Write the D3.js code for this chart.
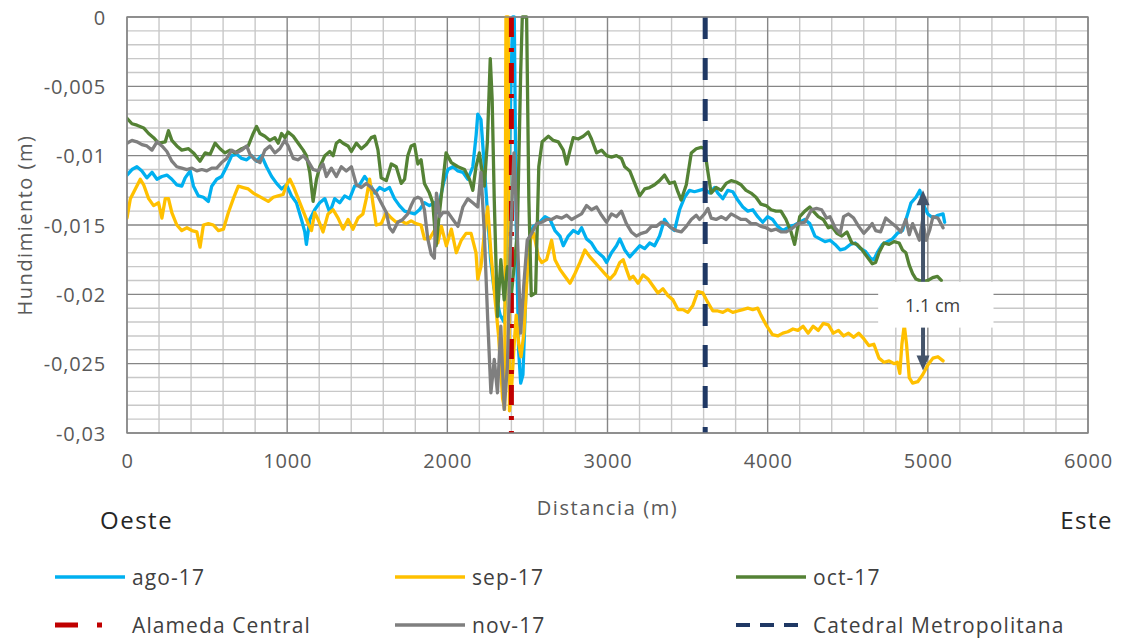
<!DOCTYPE html>
<html>
<head>
<meta charset="utf-8">
<script src="https://cdn.jsdelivr.net/npm/d3@7"></script>
<style>
  body { margin: 0; background: #fff; }
  svg { display: block; font-family: "Open Sans", sans-serif; }
</style>
</head>
<body>
<div id="container"></div>
<script>
/* CONSTANTS AND GLOBALS */
const width = 1123,
  height = 639,
  margin = { top: 17, left: 127, right: 35, bottom: 206 };

// DATA (distance in m, hundimiento in m)
const ago17 = [[0,-0.0114],[31,-0.0110],[62,-0.0108],[93,-0.0111],[124,-0.0116],[156,-0.0112],[187,-0.0117],[218,-0.0115],[249,-0.0114],[280,-0.0117],[311,-0.0121],[342,-0.0122],[363,-0.0116],[394,-0.0111],[415,-0.0122],[446,-0.0129],[477,-0.0130],[508,-0.0133],[529,-0.0122],[560,-0.0117],[591,-0.0115],[622,-0.0108],[654,-0.0100],[685,-0.0099],[716,-0.0102],[747,-0.0103],[778,-0.0100],[809,-0.0104],[840,-0.0100],[871,-0.0108],[903,-0.0115],[934,-0.0120],[965,-0.0124],[996,-0.0121],[1027,-0.0129],[1058,-0.0134],[1089,-0.0146],[1110,-0.0155],[1120,-0.0164],[1141,-0.0146],[1172,-0.0139],[1203,-0.0134],[1235,-0.0131],[1266,-0.0141],[1297,-0.0131],[1328,-0.0134],[1359,-0.0129],[1390,-0.0131],[1421,-0.0122],[1452,-0.0121],[1484,-0.0115],[1515,-0.0120],[1546,-0.0127],[1577,-0.0123],[1608,-0.0125],[1639,-0.0123],[1670,-0.0131],[1701,-0.0136],[1733,-0.0140],[1764,-0.0141],[1795,-0.0142],[1826,-0.0139],[1857,-0.0134],[1888,-0.0136],[1919,-0.0134],[1940,-0.0141],[1961,-0.0128],[1980,-0.0118],[2004,-0.0110],[2035,-0.0108],[2066,-0.0111],[2097,-0.0112],[2128,-0.0117],[2159,-0.0108],[2180,-0.0085],[2190,-0.0070],[2210,-0.0074],[2231,-0.0108],[2250,-0.0140],[2270,-0.0175],[2290,-0.0195],[2310,-0.0205],[2330,-0.0215],[2355,-0.0220],[2375,-0.0180],[2395,-0.0060],[2408,0],[2418,0],[2430,-0.0150],[2445,-0.0240],[2458,-0.0264],[2472,-0.0258],[2490,-0.0200],[2510,-0.0160],[2537,-0.0151],[2568,-0.0149],[2610,-0.0144],[2641,-0.0146],[2672,-0.0154],[2703,-0.0158],[2724,-0.0165],[2755,-0.0158],[2786,-0.0154],[2817,-0.0156],[2838,-0.0152],[2869,-0.0160],[2900,-0.0163],[2932,-0.0169],[2973,-0.0173],[2994,-0.0177],[3025,-0.0170],[3056,-0.0165],[3077,-0.0160],[3108,-0.0168],[3139,-0.0173],[3170,-0.0169],[3201,-0.0165],[3232,-0.0167],[3263,-0.0163],[3294,-0.0165],[3325,-0.0158],[3356,-0.0146],[3387,-0.0151],[3418,-0.0154],[3450,-0.0139],[3481,-0.0130],[3512,-0.0125],[3543,-0.0126],[3574,-0.0125],[3606,-0.0124],[3637,-0.0127],[3668,-0.0123],[3689,-0.0127],[3720,-0.0131],[3751,-0.0125],[3782,-0.0126],[3813,-0.0132],[3845,-0.0137],[3876,-0.0140],[3907,-0.0139],[3938,-0.0144],[3969,-0.0148],[4000,-0.0144],[4031,-0.0146],[4062,-0.0151],[4095,-0.0154],[4137,-0.0151],[4168,-0.0150],[4200,-0.0148],[4232,-0.0146],[4263,-0.0149],[4295,-0.0158],[4326,-0.0160],[4358,-0.0162],[4390,-0.0161],[4421,-0.0164],[4453,-0.0168],[4484,-0.0167],[4516,-0.0164],[4547,-0.0163],[4579,-0.0167],[4611,-0.0169],[4642,-0.0174],[4663,-0.0175],[4684,-0.0170],[4716,-0.0164],[4747,-0.0162],[4779,-0.0160],[4810,-0.0156],[4842,-0.0154],[4874,-0.0142],[4895,-0.0134],[4926,-0.0130],[4950,-0.0125],[4979,-0.0137],[5000,-0.0142],[5032,-0.0145],[5063,-0.0143],[5095,-0.0142],[5105,-0.0148]];

const sep17 = [[0,-0.0145],[21,-0.0131],[52,-0.0124],[83,-0.0117],[104,-0.0121],[135,-0.0131],[166,-0.0136],[197,-0.0134],[218,-0.0145],[239,-0.0131],[259,-0.0131],[280,-0.0141],[311,-0.0150],[342,-0.0154],[374,-0.0152],[405,-0.0154],[436,-0.0155],[456,-0.0166],[477,-0.0150],[508,-0.0149],[539,-0.0150],[571,-0.0154],[602,-0.0153],[633,-0.0141],[664,-0.0131],[695,-0.0122],[726,-0.0123],[757,-0.0124],[788,-0.0127],[820,-0.0129],[851,-0.0131],[882,-0.0133],[913,-0.0130],[944,-0.0129],[975,-0.0128],[996,-0.0121],[1017,-0.0117],[1038,-0.0122],[1069,-0.0131],[1100,-0.0140],[1131,-0.0149],[1152,-0.0154],[1172,-0.0141],[1193,-0.0146],[1224,-0.0155],[1255,-0.0142],[1287,-0.0139],[1318,-0.0145],[1349,-0.0153],[1380,-0.0146],[1411,-0.0153],[1442,-0.0145],[1473,-0.0142],[1494,-0.0131],[1515,-0.0117],[1535,-0.0134],[1556,-0.0150],[1587,-0.0149],[1619,-0.0141],[1650,-0.0145],[1681,-0.0148],[1712,-0.0147],[1743,-0.0149],[1774,-0.0147],[1805,-0.0149],[1836,-0.0150],[1857,-0.0160],[1888,-0.0160],[1919,-0.0154],[1940,-0.0163],[1963,-0.0151],[1994,-0.0165],[2025,-0.0153],[2056,-0.0170],[2087,-0.0161],[2117,-0.0156],[2148,-0.0156],[2179,-0.0170],[2190,-0.0189],[2210,-0.0180],[2231,-0.0156],[2252,-0.0137],[2272,-0.0170],[2295,-0.0200],[2320,-0.0230],[2345,-0.0275],[2358,-0.0283],[2366,0],[2380,0],[2388,-0.0284],[2400,-0.0270],[2415,-0.0240],[2430,-0.0215],[2445,-0.0235],[2460,-0.0245],[2478,-0.0228],[2499,-0.0185],[2520,-0.0160],[2540,-0.0156],[2568,-0.0173],[2589,-0.0177],[2620,-0.0175],[2651,-0.0161],[2672,-0.0175],[2703,-0.0182],[2734,-0.0187],[2766,-0.0192],[2797,-0.0185],[2828,-0.0177],[2859,-0.0168],[2890,-0.0173],[2921,-0.0177],[2952,-0.0181],[2983,-0.0185],[3015,-0.0189],[3046,-0.0185],[3077,-0.0177],[3098,-0.0175],[3118,-0.0182],[3139,-0.0189],[3160,-0.0187],[3191,-0.0192],[3222,-0.0186],[3253,-0.0189],[3284,-0.0194],[3315,-0.0199],[3346,-0.0196],[3378,-0.0201],[3409,-0.0204],[3440,-0.0211],[3471,-0.0211],[3502,-0.0213],[3533,-0.0208],[3564,-0.0198],[3595,-0.0199],[3627,-0.0206],[3658,-0.0212],[3689,-0.0212],[3720,-0.0213],[3751,-0.0211],[3782,-0.0213],[3813,-0.0212],[3845,-0.0211],[3876,-0.0210],[3907,-0.0211],[3938,-0.0210],[3958,-0.0215],[3990,-0.0222],[4030,-0.0229],[4063,-0.0230],[4095,-0.0228],[4126,-0.0227],[4158,-0.0225],[4189,-0.0226],[4221,-0.0223],[4253,-0.0228],[4284,-0.0223],[4316,-0.0226],[4347,-0.0221],[4379,-0.0222],[4410,-0.0228],[4442,-0.0226],[4474,-0.0230],[4505,-0.0228],[4537,-0.0231],[4568,-0.0228],[4600,-0.0232],[4632,-0.0237],[4663,-0.0236],[4695,-0.0246],[4726,-0.0249],[4758,-0.0248],[4789,-0.0250],[4810,-0.0249],[4825,-0.0257],[4838,-0.0236],[4853,-0.0222],[4867,-0.0236],[4884,-0.0260],[4905,-0.0264],[4937,-0.0263],[4968,-0.0258],[5000,-0.0251],[5032,-0.0246],[5063,-0.0245],[5095,-0.0248]];

const oct17 = [[0,-0.0073],[31,-0.0077],[62,-0.0078],[104,-0.0080],[135,-0.0084],[166,-0.0087],[197,-0.0091],[239,-0.0090],[259,-0.0082],[280,-0.0089],[311,-0.0093],[342,-0.0096],[384,-0.0095],[415,-0.0098],[456,-0.0104],[488,-0.0098],[519,-0.0099],[550,-0.0091],[581,-0.0095],[612,-0.0098],[643,-0.0096],[674,-0.0098],[716,-0.0095],[757,-0.0093],[788,-0.0084],[809,-0.0079],[830,-0.0084],[861,-0.0086],[892,-0.0089],[923,-0.0087],[944,-0.0091],[965,-0.0084],[986,-0.0087],[1006,-0.0083],[1038,-0.0086],[1069,-0.0091],[1100,-0.0096],[1120,-0.0100],[1141,-0.0112],[1162,-0.0133],[1183,-0.0117],[1204,-0.0108],[1235,-0.0100],[1266,-0.0097],[1287,-0.0100],[1307,-0.0091],[1328,-0.0089],[1349,-0.0091],[1380,-0.0093],[1401,-0.0097],[1432,-0.0091],[1463,-0.0095],[1494,-0.0092],[1525,-0.0087],[1546,-0.0086],[1567,-0.0096],[1587,-0.0116],[1619,-0.0118],[1650,-0.0106],[1681,-0.0108],[1712,-0.0120],[1733,-0.0117],[1753,-0.0100],[1774,-0.0093],[1795,-0.0092],[1816,-0.0106],[1836,-0.0103],[1857,-0.0120],[1888,-0.0127],[1909,-0.0134],[1930,-0.0165],[1951,-0.0141],[1971,-0.0120],[1992,-0.0098],[2025,-0.0105],[2066,-0.0108],[2107,-0.0110],[2138,-0.0117],[2159,-0.0125],[2179,-0.0108],[2200,-0.0098],[2231,-0.0122],[2250,-0.0090],[2268,-0.0030],[2280,-0.0060],[2293,-0.0132],[2313,-0.0216],[2334,-0.0175],[2355,-0.0204],[2375,-0.0180],[2400,-0.0200],[2437,-0.0156],[2458,-0.0040],[2468,0],[2495,0],[2509,-0.0132],[2524,-0.0201],[2551,-0.0199],[2571,-0.0108],[2592,-0.0090],[2631,-0.0086],[2662,-0.0089],[2693,-0.0090],[2724,-0.0096],[2745,-0.0106],[2766,-0.0096],[2786,-0.0087],[2817,-0.0088],[2849,-0.0086],[2880,-0.0083],[2900,-0.0088],[2932,-0.0098],[2963,-0.0096],[2994,-0.0100],[3025,-0.0101],[3056,-0.0100],[3087,-0.0102],[3108,-0.0108],[3139,-0.0111],[3170,-0.0120],[3201,-0.0129],[3232,-0.0124],[3263,-0.0123],[3294,-0.0121],[3325,-0.0118],[3356,-0.0114],[3387,-0.0120],[3418,-0.0119],[3439,-0.0126],[3460,-0.0132],[3492,-0.0121],[3523,-0.0098],[3554,-0.0095],[3585,-0.0094],[3606,-0.0095],[3626,-0.0111],[3647,-0.0127],[3678,-0.0123],[3710,-0.0125],[3741,-0.0120],[3772,-0.0118],[3803,-0.0119],[3834,-0.0121],[3865,-0.0125],[3896,-0.0127],[3927,-0.0130],[3958,-0.0135],[3990,-0.0136],[4021,-0.0139],[4052,-0.0140],[4083,-0.0140],[4114,-0.0146],[4146,-0.0155],[4168,-0.0164],[4200,-0.0144],[4232,-0.0140],[4263,-0.0137],[4284,-0.0140],[4316,-0.0144],[4347,-0.0146],[4379,-0.0152],[4400,-0.0151],[4432,-0.0156],[4463,-0.0158],[4495,-0.0155],[4526,-0.0163],[4558,-0.0164],[4590,-0.0168],[4621,-0.0173],[4653,-0.0178],[4674,-0.0177],[4695,-0.0170],[4726,-0.0163],[4758,-0.0164],[4789,-0.0162],[4821,-0.0163],[4842,-0.0168],[4863,-0.0170],[4884,-0.0179],[4905,-0.0185],[4926,-0.0189],[4968,-0.0191],[5000,-0.0190],[5030,-0.0188],[5060,-0.0187],[5084,-0.0190]];

const nov17 = [[0,-0.0091],[31,-0.0089],[62,-0.0090],[93,-0.0092],[124,-0.0093],[156,-0.0096],[187,-0.0090],[218,-0.0093],[249,-0.0097],[280,-0.0104],[311,-0.0108],[342,-0.0109],[374,-0.0110],[405,-0.0109],[436,-0.0111],[467,-0.0110],[498,-0.0111],[529,-0.0109],[560,-0.0109],[591,-0.0105],[622,-0.0102],[654,-0.0096],[685,-0.0098],[716,-0.0096],[747,-0.0093],[768,-0.0099],[799,-0.0103],[830,-0.0105],[861,-0.0096],[892,-0.0093],[923,-0.0098],[954,-0.0095],[985,-0.0089],[1006,-0.0093],[1038,-0.0102],[1069,-0.0103],[1100,-0.0100],[1131,-0.0104],[1162,-0.0110],[1193,-0.0111],[1224,-0.0106],[1245,-0.0115],[1276,-0.0109],[1307,-0.0115],[1338,-0.0108],[1369,-0.0111],[1401,-0.0108],[1432,-0.0121],[1463,-0.0123],[1494,-0.0120],[1525,-0.0123],[1556,-0.0127],[1587,-0.0134],[1619,-0.0141],[1639,-0.0152],[1660,-0.0155],[1691,-0.0148],[1722,-0.0146],[1753,-0.0142],[1774,-0.0136],[1795,-0.0131],[1816,-0.0130],[1836,-0.0131],[1857,-0.0139],[1878,-0.0160],[1899,-0.0171],[1919,-0.0174],[1932,-0.0127],[1953,-0.0144],[1973,-0.0141],[2004,-0.0141],[2035,-0.0146],[2066,-0.0151],[2097,-0.0137],[2128,-0.0131],[2159,-0.0134],[2190,-0.0137],[2210,-0.0112],[2231,-0.0156],[2252,-0.0218],[2272,-0.0271],[2293,-0.0247],[2313,-0.0271],[2334,-0.0223],[2355,-0.0283],[2375,-0.0252],[2396,-0.0156],[2416,-0.0098],[2437,-0.0156],[2458,-0.0228],[2478,-0.0192],[2499,-0.0161],[2527,-0.0156],[2558,-0.0149],[2589,-0.0148],[2620,-0.0146],[2651,-0.0146],[2682,-0.0144],[2714,-0.0145],[2745,-0.0143],[2776,-0.0146],[2807,-0.0144],[2838,-0.0142],[2869,-0.0136],[2900,-0.0139],[2932,-0.0137],[2963,-0.0143],[2994,-0.0148],[3025,-0.0142],[3056,-0.0144],[3087,-0.0140],[3118,-0.0149],[3149,-0.0155],[3180,-0.0158],[3212,-0.0156],[3243,-0.0155],[3274,-0.0151],[3305,-0.0151],[3336,-0.0148],[3367,-0.0149],[3398,-0.0152],[3429,-0.0154],[3461,-0.0155],[3492,-0.0151],[3523,-0.0146],[3554,-0.0143],[3575,-0.0146],[3606,-0.0142],[3627,-0.0138],[3647,-0.0145],[3678,-0.0146],[3710,-0.0144],[3741,-0.0146],[3772,-0.0142],[3803,-0.0144],[3834,-0.0146],[3865,-0.0146],[3896,-0.0149],[3927,-0.0149],[3958,-0.0151],[3990,-0.0152],[4021,-0.0154],[4052,-0.0153],[4083,-0.0155],[4114,-0.0155],[4146,-0.0153],[4189,-0.0149],[4232,-0.0148],[4274,-0.0139],[4305,-0.0138],[4337,-0.0139],[4368,-0.0145],[4389,-0.0144],[4421,-0.0152],[4453,-0.0156],[4474,-0.0144],[4505,-0.0142],[4537,-0.0145],[4568,-0.0151],[4600,-0.0156],[4632,-0.0152],[4653,-0.0149],[4674,-0.0154],[4705,-0.0155],[4737,-0.0145],[4768,-0.0148],[4800,-0.0151],[4832,-0.0155],[4863,-0.0146],[4884,-0.0157],[4905,-0.0149],[4926,-0.0155],[4947,-0.0161],[4968,-0.0146],[4989,-0.0161],[5011,-0.0154],[5032,-0.0144],[5063,-0.0145],[5095,-0.0152]];

// reference points along the profile (m)
const alamedaDistance = 2400;
const catedralDistance = 3610;

// annotation: difference marked at the east end
const noteDistance = 4970, noteTop = -0.0125, noteBottom = -0.0255;
const noteLabel = "1.1 cm";

const xTicks = [0, 1000, 2000, 3000, 4000, 5000, 6000];
const yTicks = [0, -0.005, -0.01, -0.015, -0.02, -0.025, -0.03];

const legendNames = ["ago-17", "sep-17", "oct-17", "Alameda Central", "nov-17", "Catedral Metropolitana"];

const esLocale = d3.formatLocale({ decimal: ",", thousands: ".", grouping: [3], currency: ["", " €"], minus: "-" });
const fmtY = esLocale.format("~g");

// APPEND SVG
const svg = d3.select("#container")
  .append("svg")
  .attr("width", width)
  .attr("height", height);

// SCALES
const x = d3.scaleLinear().domain([0, 6000]).range([margin.left, width - margin.right]);
const y = d3.scaleLinear().domain([-0.03, 0]).range([height - margin.bottom, margin.top]);

// GRIDLINES
const minorX = d3.range(0, 6001, 200).filter(d => d % 1000 !== 0);
const minorY = d3.range(1, 30).filter(i => i % 5 !== 0).map(i => -i * 0.001);

svg.append("g").selectAll("line")
  .data(minorX)
  .join("line")
  .attr("x1", d => x(d)).attr("x2", d => x(d))
  .attr("y1", y(0)).attr("y2", y(-0.03))
  .attr("stroke", "#c8c8c8").attr("stroke-width", 1.4);

svg.append("g").selectAll("line")
  .data(minorY)
  .join("line")
  .attr("x1", x(0)).attr("x2", x(6000))
  .attr("y1", d => y(d)).attr("y2", d => y(d))
  .attr("stroke", "#c8c8c8").attr("stroke-width", 1.4);

svg.append("g").selectAll("line")
  .data(xTicks)
  .join("line")
  .attr("x1", d => x(d)).attr("x2", d => x(d))
  .attr("y1", y(0)).attr("y2", y(-0.03))
  .attr("stroke", "#868686").attr("stroke-width", 1.4);

svg.append("g").selectAll("line")
  .data(yTicks)
  .join("line")
  .attr("x1", x(0)).attr("x2", x(6000))
  .attr("y1", d => y(d)).attr("y2", d => y(d))
  .attr("stroke", "#868686").attr("stroke-width", 1.4);

// AXES (labels only)
const xAxis = svg.append("g")
  .attr("transform", `translate(0, ${y(-0.03)})`)
  .call(d3.axisBottom(x).tickValues(xTicks).tickSize(0).tickPadding(21).tickFormat(d3.format("d")));

const yAxis = svg.append("g")
  .attr("transform", `translate(${x(0)}, 0)`)
  .call(d3.axisLeft(y).tickValues(yTicks).tickSize(0).tickPadding(21).tickFormat(d => d === 0 ? "0" : fmtY(d)));

[xAxis, yAxis].forEach(g => {
  g.select(".domain").remove();
  g.selectAll("text")
    .attr("fill", "#595959")
    .style("font-family", "Open Sans, sans-serif")
    .style("font-size", "20px")
    .style("letter-spacing", "0.8px");
});
yAxis.selectAll("text").attr("dy", "0.36em");

// AXIS TITLES
svg.append("text")
  .attr("transform", `translate(24, ${y(-0.015)}) rotate(-90)`)
  .attr("text-anchor", "middle")
  .attr("dominant-baseline", "central")
  .attr("fill", "#595959")
  .style("font-size", "20px")
  .style("letter-spacing", "1.5px")
  .text("Hundimiento (m)");

svg.append("text")
  .attr("x", x(3000))
  .attr("y", 507)
  .attr("text-anchor", "middle")
  .attr("dominant-baseline", "central")
  .attr("fill", "#595959")
  .style("font-size", "20px")
  .style("letter-spacing", "1.6px")
  .text("Distancia (m)");

svg.append("text")
  .attr("x", 100).attr("y", 519)
  .attr("dominant-baseline", "central")
  .attr("fill", "#262626")
  .style("font-size", "24px")
  .style("letter-spacing", "1.5px")
  .text("Oeste");

svg.append("text")
  .attr("x", 1113).attr("y", 519)
  .attr("text-anchor", "end")
  .attr("dominant-baseline", "central")
  .attr("fill", "#262626")
  .style("font-size", "24px")
  .style("letter-spacing", "1.5px")
  .text("Este");

// CLIP TO PLOT AREA
svg.append("clipPath").attr("id", "plot-clip")
  .append("rect")
  .attr("x", x(0)).attr("y", y(0) - 2)
  .attr("width", x(6000) - x(0)).attr("height", y(-0.03) - y(0) + 2);

const plot = svg.append("g").attr("clip-path", "url(#plot-clip)");

const lineGen = d3.line()
  .x(d => x(d[0]))
  .y(d => y(d[1]));

const drawSeries = (data, color) => plot.append("path")
  .datum(data)
  .attr("d", lineGen)
  .attr("fill", "none")
  .attr("stroke", color)
  .attr("stroke-width", 3.3)
  .attr("stroke-linejoin", "round")
  .attr("stroke-linecap", "round");

const refLine = (dist, color, dash) => plot.append("line")
  .attr("x1", x(dist)).attr("x2", x(dist))
  .attr("y1", y(0)).attr("y2", y(-0.03))
  .attr("stroke", color)
  .attr("stroke-width", 5)
  .attr("stroke-dasharray", dash);

// SERIES IN LEGEND ORDER
drawSeries(ago17, "#00b0f0");
drawSeries(sep17, "#ffc000");
drawSeries(oct17, "#548235");
refLine(alamedaDistance, "#c00000", "20,11,4,11");
drawSeries(nov17, "#7f7f7f");
refLine(catedralDistance, "#1f3864", "22,19");

// PLOT BORDER
svg.append("rect")
  .attr("x", x(0)).attr("y", y(0))
  .attr("width", x(6000) - x(0)).attr("height", y(-0.03) - y(0))
  .attr("fill", "none")
  .attr("stroke", "#868686")
  .attr("stroke-width", 1.4);

// ANNOTATION ARROW + LABEL
const arrowColor = "#44546a";
const ax = x(noteDistance), aTop = y(noteTop), aBot = y(noteBottom);
svg.append("line")
  .attr("x1", ax).attr("x2", ax)
  .attr("y1", aTop + 10).attr("y2", aBot - 10)
  .attr("stroke", arrowColor).attr("stroke-width", 4);
svg.append("path")
  .attr("d", `M${ax},${aTop} L${ax - 6.5},${aTop + 15} L${ax + 6.5},${aTop + 15} Z`)
  .attr("fill", arrowColor);
svg.append("path")
  .attr("d", `M${ax},${aBot} L${ax - 6.5},${aBot - 15} L${ax + 6.5},${aBot - 15} Z`)
  .attr("fill", arrowColor);

svg.append("rect")
  .attr("x", x(4690)).attr("y", y(-0.0191))
  .attr("width", x(5410) - x(4690)).attr("height", y(-0.0224) - y(-0.0191))
  .attr("fill", "#ffffff");

svg.append("text")
  .attr("x", x(5030)).attr("y", y(-0.0208))
  .attr("text-anchor", "middle")
  .attr("dominant-baseline", "central")
  .attr("fill", "#404040")
  .style("font-size", "18px")
  .text(noteLabel);

// LEGEND
const legendItems = [
  { name: legendNames[0], color: "#00b0f0", dash: null, width: 3.3 },
  { name: legendNames[1], color: "#ffc000", dash: null, width: 3.3 },
  { name: legendNames[2], color: "#548235", dash: null, width: 3.3 },
  { name: legendNames[3], color: "#c00000", dash: "23,19,5,40", width: 5 },
  { name: legendNames[4], color: "#7f7f7f", dash: null, width: 3.3 },
  { name: legendNames[5], color: "#1f3864", dash: "14,10", width: 4 }
];
const colX = [55, 395, 736], rowY = [577, 625];

const legend = svg.append("g").selectAll("g")
  .data(legendItems)
  .join("g")
  .attr("transform", (d, i) => `translate(${colX[i % 3]}, ${rowY[Math.floor(i / 3)]})`);

legend.append("line")
  .attr("x1", 0).attr("x2", 70)
  .attr("stroke", d => d.color)
  .attr("stroke-width", d => d.width)
  .attr("stroke-dasharray", d => d.dash);

legend.append("text")
  .attr("x", 77)
  .attr("dominant-baseline", "central")
  .attr("fill", "#404040")
  .style("font-size", "21px")
  .style("letter-spacing", "1.1px")
  .text(d => d.name);
</script>
</body>
</html>
